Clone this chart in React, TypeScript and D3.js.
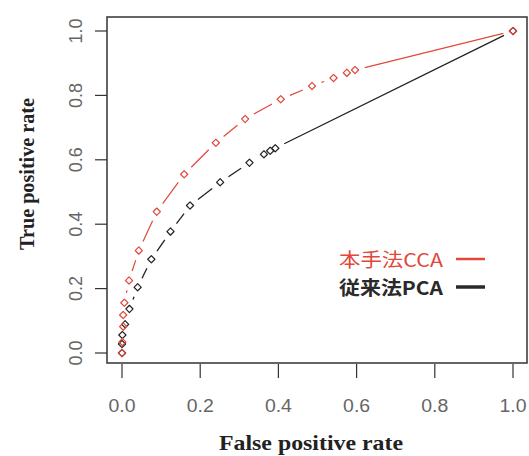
import React, { useEffect, useRef } from 'react';
import * as d3 from 'd3';

// ROC points
const ccaFpr = [0.0, 0.001, 0.003, 0.003, 0.006, 0.018, 0.043, 0.089, 0.159, 0.240, 0.315, 0.406, 0.486, 0.541, 0.575, 0.596, 1.0];
const ccaTpr = [0.0, 0.034, 0.082, 0.118, 0.156, 0.225, 0.318, 0.439, 0.555, 0.653, 0.727, 0.788, 0.829, 0.854, 0.870, 0.879, 1.0];
const pcaFpr = [0.0, 0.0, 0.001, 0.008, 0.019, 0.040, 0.075, 0.124, 0.174, 0.251, 0.326, 0.363, 0.379, 0.392, 1.0];
const pcaTpr = [0.0, 0.028, 0.056, 0.089, 0.137, 0.204, 0.291, 0.377, 0.458, 0.530, 0.591, 0.617, 0.628, 0.636, 1.0];
const ticks = [0, 0.2, 0.4, 0.6, 0.8, 1.0];
const legendLabels = ['本手法CCA', '従来法PCA'];

export default function App() {
  const svgRef = useRef<SVGSVGElement>(null);

  useEffect(() => {
    document.body.style.margin = '0';
    const width = 529;
    const height = 456;
    const box = { left: 107, top: 17, right: 527, bottom: 363 };

    const svg = d3.select(svgRef.current);
    svg.selectAll('*').remove();
    svg.attr('width', width).attr('height', height);

    const x = d3.scaleLinear().domain([0, 1]).range([122, 513]);
    const y = d3.scaleLinear().domain([0, 1]).range([353, 31]);

    svg.append('rect').attr('width', width).attr('height', height).attr('fill', '#fff');

    // frame
    svg.append('rect')
      .attr('x', box.left).attr('y', box.top)
      .attr('width', box.right - box.left).attr('height', box.bottom - box.top)
      .attr('fill', 'none').attr('stroke', '#333').attr('stroke-width', 1.5);

    // x axis
    const xa = svg.append('g');
    ticks.forEach(t => {
      xa.append('line')
        .attr('x1', x(t)).attr('x2', x(t))
        .attr('y1', box.bottom + 1).attr('y2', box.bottom + 15)
        .attr('stroke', '#333').attr('stroke-width', 1.2);
      xa.append('text')
        .attr('x', x(t)).attr('y', 412)
        .attr('text-anchor', 'middle')
        .attr('font-family', 'Liberation Sans, Arial, sans-serif')
        .attr('font-size', 18).attr('fill', '#666')
        .attr('textLength', 27).attr('lengthAdjust', 'spacingAndGlyphs')
        .text(t.toFixed(1));
    });

    // y axis
    const ya = svg.append('g');
    ticks.forEach(t => {
      ya.append('line')
        .attr('x1', box.left - 12).attr('x2', box.left)
        .attr('y1', y(t)).attr('y2', y(t))
        .attr('stroke', '#333').attr('stroke-width', 1.2);
      ya.append('text')
        .attr('transform', `translate(82,${y(t)}) rotate(-90)`)
        .attr('text-anchor', 'middle')
        .attr('font-family', 'Liberation Sans, Arial, sans-serif')
        .attr('font-size', 18).attr('fill', '#666')
        .text(t.toFixed(1));
    });

    // axis titles
    svg.append('text')
      .attr('x', 311).attr('y', 450)
      .attr('text-anchor', 'middle')
      .attr('font-family', 'Liberation Serif, Times New Roman, serif')
      .attr('font-weight', 'bold').attr('font-size', 21).attr('fill', '#222')
      .attr('textLength', 184).attr('lengthAdjust', 'spacingAndGlyphs')
      .text('False positive rate');

    svg.append('text')
      .attr('transform', 'translate(34,174) rotate(-90)')
      .attr('text-anchor', 'middle')
      .attr('font-family', 'Liberation Serif, Times New Roman, serif')
      .attr('font-weight', 'bold').attr('font-size', 20).attr('fill', '#222')
      .attr('textLength', 152).attr('lengthAdjust', 'spacingAndGlyphs')
      .text('True positive rate');

    // type = "b": segments stop short of each point
    const gap = 10;
    const drawSeries = (fx: number[], fy: number[], color: string, lw: number) => {
      const pts = fx.map((v, i) => [x(v), y(fy[i])]);
      const g = svg.append('g');
      for (let i = 0; i < pts.length - 1; i++) {
        const [x1, y1] = pts[i];
        const [x2, y2] = pts[i + 1];
        const d = Math.hypot(x2 - x1, y2 - y1);
        if (d <= 2 * gap) continue;
        const ux = (x2 - x1) / d, uy = (y2 - y1) / d;
        g.append('line')
          .attr('x1', x1 + ux * gap).attr('y1', y1 + uy * gap)
          .attr('x2', x2 - ux * gap).attr('y2', y2 - uy * gap)
          .attr('stroke', color).attr('stroke-width', lw);
      }
      const sym = d3.symbol().type(d3.symbolSquare).size(26);
      g.selectAll('path.pt')
        .data(pts)
        .join('path')
        .attr('class', 'pt')
        .attr('transform', d => `translate(${d[0]},${d[1]}) rotate(45)`)
        .attr('d', sym())
        .attr('fill', 'none')
        .attr('stroke', color)
        .attr('stroke-linejoin', 'round')
        .attr('stroke-width', 1.2);
    };

    drawSeries(pcaFpr, pcaTpr, '#222', 1.3);
    drawSeries(ccaFpr, ccaTpr, '#e2473b', 1.2);

    // legend
    const legendColors = ['#e2473b', '#2a2a2a'];
    legendLabels.forEach((label, i) => {
      const by = 267 + i * 28;
      svg.append('text')
        .attr('x', 339).attr('y', by)
        .attr('font-family', 'Noto Sans CJK JP, sans-serif')
        .attr('font-weight', i === 1 ? 'bold' : 'normal')
        .attr('font-size', 19)
        .attr('fill', legendColors[i])
        .attr('textLength', 104).attr('lengthAdjust', 'spacingAndGlyphs')
        .text(label);
      svg.append('line')
        .attr('x1', 456).attr('x2', 485)
        .attr('y1', by - 8).attr('y2', by - 8)
        .attr('stroke', legendColors[i]).attr('stroke-width', i === 1 ? 3.5 : 2.5);
    });
  }, []);

  return <svg ref={svgRef}></svg>;
}
